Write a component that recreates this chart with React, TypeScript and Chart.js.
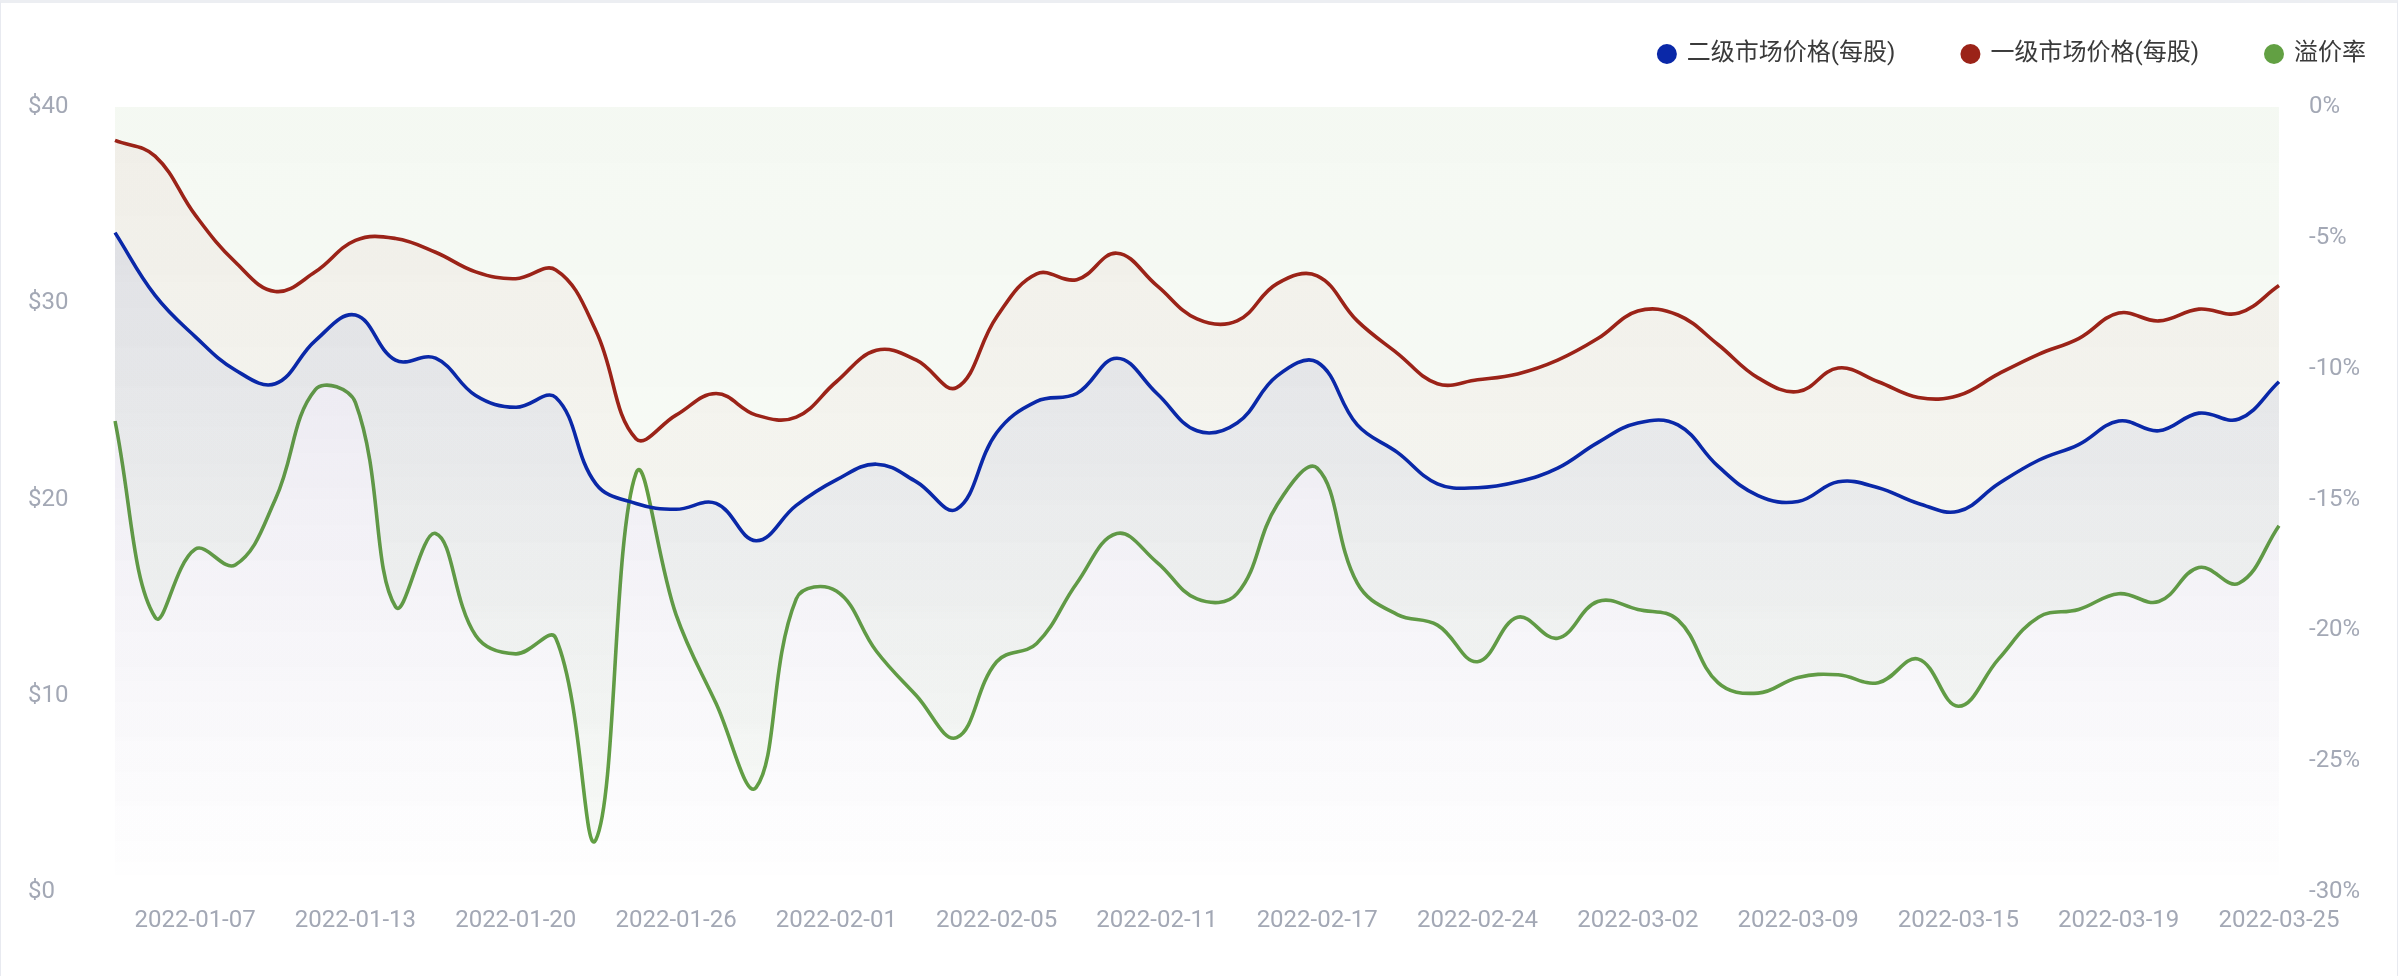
import React, { useEffect, useRef } from 'react';
import { Chart, registerables } from 'chart.js';

Chart.register(...registerables);

// ---------------- data ----------------
const dates: string[] = [
  '2022-01-04', '2022-01-05', '2022-01-07',
  '2022-01-10', '2022-01-11', '2022-01-12', '2022-01-13',
  '2022-01-14', '2022-01-17', '2022-01-18', '2022-01-20',
  '2022-01-21', '2022-01-24', '2022-01-25', '2022-01-26',
  '2022-01-27', '2022-01-28', '2022-01-31', '2022-02-01',
  '2022-02-02', '2022-02-03', '2022-02-04', '2022-02-05',
  '2022-02-07', '2022-02-08', '2022-02-10', '2022-02-11',
  '2022-02-14', '2022-02-15', '2022-02-16', '2022-02-17',
  '2022-02-18', '2022-02-21', '2022-02-23', '2022-02-24',
  '2022-02-25', '2022-02-28', '2022-03-01', '2022-03-02',
  '2022-03-03', '2022-03-04', '2022-03-07', '2022-03-09',
  '2022-03-10', '2022-03-11', '2022-03-14', '2022-03-15',
  '2022-03-16', '2022-03-17', '2022-03-18', '2022-03-19',
  '2022-03-21', '2022-03-22', '2022-03-24', '2022-03-25',
];

const tickLabels: string[] = [
  '2022-01-07', '2022-01-13', '2022-01-20', '2022-01-26', '2022-02-01',
  '2022-02-05', '2022-02-11', '2022-02-17', '2022-02-24', '2022-03-02',
  '2022-03-09', '2022-03-15', '2022-03-19', '2022-03-25',
];

// 二级市场价格(每股)
const secondaryPrice: number[] = [
  33.6, 30.4, 28.3, 26.6, 25.9, 28.1, 29.4, 27.1, 27.2, 25.3,
  24.7, 25.2, 20.8, 19.8, 19.5, 19.8, 17.9, 19.7, 21.0, 21.8,
  20.9, 19.5, 23.4, 25.0, 25.4, 27.2, 25.4, 23.5, 23.9, 26.3,
  27.0, 23.8, 22.4, 20.8, 20.6, 20.9, 21.6, 22.9, 23.9, 23.8,
  21.7, 20.2, 19.9, 20.9, 20.6, 19.8, 19.4, 20.8, 22.0, 22.8,
  24.0, 23.5, 24.4, 24.1, 26.0,
];

// 一级市场价格(每股)
const primaryPrice: number[] = [
  38.3, 37.5, 34.5, 32.1, 30.6, 31.6, 33.2, 33.3, 32.6, 31.6,
  31.25, 31.7, 28.6, 23.1, 24.3, 25.4, 24.3, 24.2, 26.0, 27.6,
  27.1, 25.7, 29.3, 31.5, 31.2, 32.55, 30.9, 29.2, 29.1, 31.0,
  31.4, 29.1, 27.45, 25.9, 26.1, 26.4, 27.1, 28.2, 29.6, 29.4,
  27.9, 26.2, 25.5, 26.7, 26.0, 25.2, 25.3, 26.4, 27.4, 28.2,
  29.5, 29.1, 29.7, 29.5, 30.9,
];

// 溢价率 (%)
const premiumRate: number[] = [
  -12.0, -19.5, -16.9, -17.5, -15.0, -10.8, -11.3, -19.1, -16.3, -20.2,
  -20.9, -20.3, -28.0, -14.0, -19.4, -22.8, -26.0, -18.8, -18.5, -20.8,
  -22.5, -24.1, -21.2, -20.5, -18.2, -16.3, -17.4, -18.8, -18.6, -15.2,
  -13.8, -18.2, -19.4, -19.8, -21.2, -19.5, -20.3, -18.9, -19.2, -19.6,
  -22.0, -22.4, -21.8, -21.7, -22.0, -21.1, -22.9, -21.1, -19.5, -19.2,
  -18.6, -18.9, -17.6, -18.2, -16.0,
];

const seriesNames = ['二级市场价格(每股)', '一级市场价格(每股)', '溢价率'];
const seriesColors = ['#0a28a8', '#9b2318', '#62a043'];

const FONT = "Roboto, 'Noto Sans CJK SC', sans-serif";
const TICK_COLOR = '#a3a8b5';

function gradient(rgb: string, aTop: number, aBottom: number) {
  return (context: any) => {
    const chart = context.chart;
    const { ctx, chartArea } = chart;
    if (!chartArea) return `rgba(${rgb},${aTop})`;
    const g = ctx.createLinearGradient(0, chartArea.top, 0, chartArea.bottom);
    g.addColorStop(0, `rgba(${rgb},${aTop})`);
    g.addColorStop(1, `rgba(${rgb},${aBottom})`);
    return g;
  };
}

const legendPlugin = {
  id: 'customLegend',
  afterDraw(chart: any) {
    const { ctx } = chart;
    const datasets = chart.data.datasets;
    ctx.save();
    ctx.font = `24px ${FONT}`;
    ctx.textBaseline = 'middle';
    const y = 51;
    let xRight = 2365;
    for (let i = datasets.length - 1; i >= 0; i--) {
      const ds = datasets[i];
      const w = ctx.measureText(ds.label).width;
      const textX = xRight - w;
      ctx.fillStyle = '#3a3a3a';
      ctx.textAlign = 'left';
      ctx.fillText(ds.label, textX, y);
      const cx = textX - 20;
      ctx.beginPath();
      ctx.arc(cx, y, 10, 0, Math.PI * 2);
      ctx.fillStyle = ds.borderColor;
      ctx.fill();
      xRight = cx - 10 - 65;
    }
    ctx.restore();
  },
};

export default function App() {
  const canvasRef = useRef<HTMLCanvasElement | null>(null);

  useEffect(() => {
    document.body.style.margin = '0';
    const canvas = canvasRef.current;
    if (!canvas) return;
    const chart = new Chart(canvas, {
      type: 'line',
      data: {
        labels: dates,
        datasets: [
          {
            label: seriesNames[0],
            data: secondaryPrice,
            borderColor: seriesColors[0],
            backgroundColor: gradient('10,40,168', 0.09, 0.0),
            fill: 'origin',
            yAxisID: 'y',
            borderWidth: 3.6,
            pointRadius: 0,
            tension: 0.4,
          },
          {
            label: seriesNames[1],
            data: primaryPrice,
            borderColor: seriesColors[1],
            backgroundColor: gradient('155,35,24', 0.05, 0.0),
            fill: 'origin',
            yAxisID: 'y',
            borderWidth: 3.6,
            pointRadius: 0,
            tension: 0.4,
          },
          {
            label: seriesNames[2],
            data: premiumRate,
            borderColor: seriesColors[2],
            backgroundColor: gradient('98,160,67', 0.065, 0.04),
            fill: 'origin',
            yAxisID: 'y1',
            borderWidth: 3.6,
            pointRadius: 0,
            tension: 0.4,
          },
        ],
      },
      options: {
        animation: false,
        responsive: false,
        devicePixelRatio: 1,
        layout: { padding: { top: 104, left: 27, right: 37, bottom: 40 } },
        plugins: {
          legend: { display: false },
          tooltip: { enabled: false },
        },
        scales: {
          x: {
            offset: false,
            grid: { display: false, drawTicks: false },
            border: { display: false },
            afterFit: (s: any) => { s.height = 44; },
            ticks: {
              autoSkip: false,
              maxRotation: 0,
              minRotation: 0,
              padding: 15,
              color: TICK_COLOR,
              font: { family: FONT, size: 24 },
              callback: (_v: any, index: number) =>
                tickLabels.includes(dates[index]) ? dates[index] : '',
            },
          },
          y: {
            position: 'left',
            min: 0,
            max: 40,
            grid: { display: false, drawTicks: false },
            border: { display: false },
            afterFit: (s: any) => { s.width = 87; },
            ticks: {
              stepSize: 10,
              crossAlign: 'far',
              padding: 4,
              color: TICK_COLOR,
              font: { family: FONT, size: 24 },
              callback: (v: any) => '$' + v,
            },
          },
          y1: {
            position: 'right',
            min: -30,
            max: 0,
            grid: { display: false, drawTicks: false },
            border: { display: false },
            afterFit: (s: any) => { s.width = 81; },
            ticks: {
              stepSize: 5,
              padding: 30,
              color: TICK_COLOR,
              font: { family: FONT, size: 24 },
              callback: (v: any) => v + '%',
            },
          },
        },
      },
      plugins: [legendPlugin],
    } as any);
    return () => chart.destroy();
  }, []);

  return (
    <div
      style={{
        width: 2398,
        height: 976,
        boxSizing: 'border-box',
        borderTop: '3px solid #eceef2',
        borderLeft: '1px solid #e8eaf0',
        borderRight: '1px solid #e8eaf0',
        background: '#ffffff',
        overflow: 'hidden',
      }}
    >
      <canvas ref={canvasRef} width={2396} height={973} style={{ display: 'block' }} />
    </div>
  );
}
